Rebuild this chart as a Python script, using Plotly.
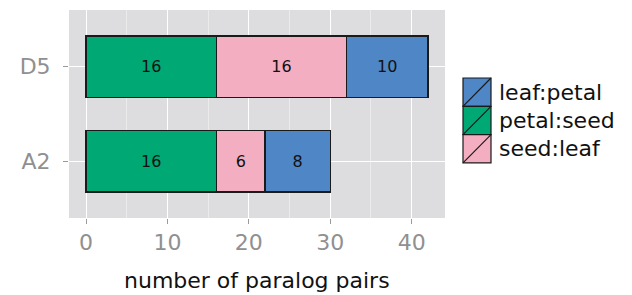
import plotly.graph_objects as go

categories = ["A2", "D5"]
series_names = ["petal:seed", "seed:leaf", "leaf:petal"]
petal_seed = [16, 16]
seed_leaf = [6, 16]
leaf_petal = [8, 10]
x_ticks = [0, 10, 20, 30, 40]

colors = {"petal:seed": "#00A874", "seed:leaf": "#F4AEC2", "leaf:petal": "#4F86C6"}
values = {"petal:seed": petal_seed, "seed:leaf": seed_leaf, "leaf:petal": leaf_petal}

W, H = 632, 295
ml, mr, mt, mb = 69, 187, 10, 77

fig = go.Figure()
for name in series_names:
    fig.add_trace(go.Bar(
        y=categories, x=values[name], orientation="h", name=name,
        marker=dict(color=colors[name], line=dict(color="#1a1a1a", width=1.3)),
        width=0.65, text=[str(v) for v in values[name]], textposition="inside",
        insidetextanchor="middle", textangle=0,
        textfont=dict(color="#111111", size=16, family="DejaVu Sans"),
        showlegend=False, hoverinfo="skip",
    ))

# manual legend (keys with diagonal strokes, as in ggplot)
pw = W - ml - mr
ph = H - mt - mb
def px_x(p):
    return (p - ml) / pw
def px_y(p):
    return 1 - (p - mt) / ph

legend_order = ["leaf:petal", "petal:seed", "seed:leaf"]
kx0, kx1 = 463, 491
ky0 = 78
kh = 28.3
shapes = []
annotations = []
for i, name in enumerate(legend_order):
    y0 = ky0 + i * kh
    y1 = y0 + kh
    shapes.append(dict(type="rect", xref="paper", yref="paper",
                       x0=px_x(kx0), x1=px_x(kx1), y0=px_y(y1), y1=px_y(y0),
                       fillcolor=colors[name], line=dict(color="#1a1a1a", width=1.2)))
    shapes.append(dict(type="line", xref="paper", yref="paper",
                       x0=px_x(kx0), x1=px_x(kx1), y0=px_y(y1), y1=px_y(y0),
                       line=dict(color="#1a1a1a", width=1.2)))
    annotations.append(dict(text=name, xref="paper", yref="paper",
                            x=px_x(497), y=px_y((y0 + y1) / 2), xanchor="left", yanchor="middle",
                            showarrow=False, font=dict(size=22, color="#111111", family="DejaVu Sans")))

annotations.append(dict(text="number of paralog pairs", xref="paper", yref="paper",
                        x=px_x(257), y=px_y(280), xanchor="center", yanchor="middle",
                        showarrow=False, font=dict(size=22, color="#111111", family="DejaVu Sans")))

fig.update_layout(
    barmode="stack",
    width=W, height=H,
    margin=dict(l=ml, r=mr, t=mt, b=mb, autoexpand=False),
    paper_bgcolor="white",
    plot_bgcolor="#DDDDDF",
    shapes=shapes,
    annotations=annotations,
    font=dict(family="DejaVu Sans"),
    xaxis=dict(
        range=[-2.1, 44.1], tickvals=x_ticks, ticktext=[str(t) for t in x_ticks],
        showgrid=True, gridcolor="white", gridwidth=1.3,
        minor=dict(showgrid=True, gridcolor="#EBEBEC", gridwidth=0.8, dtick=5, tick0=5),
        ticks="outside", ticklen=5, tickcolor="#9a9a9a", tickwidth=1,
        tickfont=dict(size=22, color="#909090"),
        zeroline=False, showline=False, automargin=False,
    ),
    yaxis=dict(
        range=[-0.6, 1.6], type="category",
        showgrid=True, gridcolor="white", gridwidth=1.3,
        ticks="outside", ticklen=5, tickcolor="#9a9a9a", tickwidth=1,
        tickfont=dict(size=22, color="#909090"), ticklabelstandoff=8,
        zeroline=False, showline=False, automargin=False,
    ),
)

fig.write_html("out.html", config={"displayModeBar": False},
               post_script="document.body.style.margin='0';document.body.style.padding='0';")
